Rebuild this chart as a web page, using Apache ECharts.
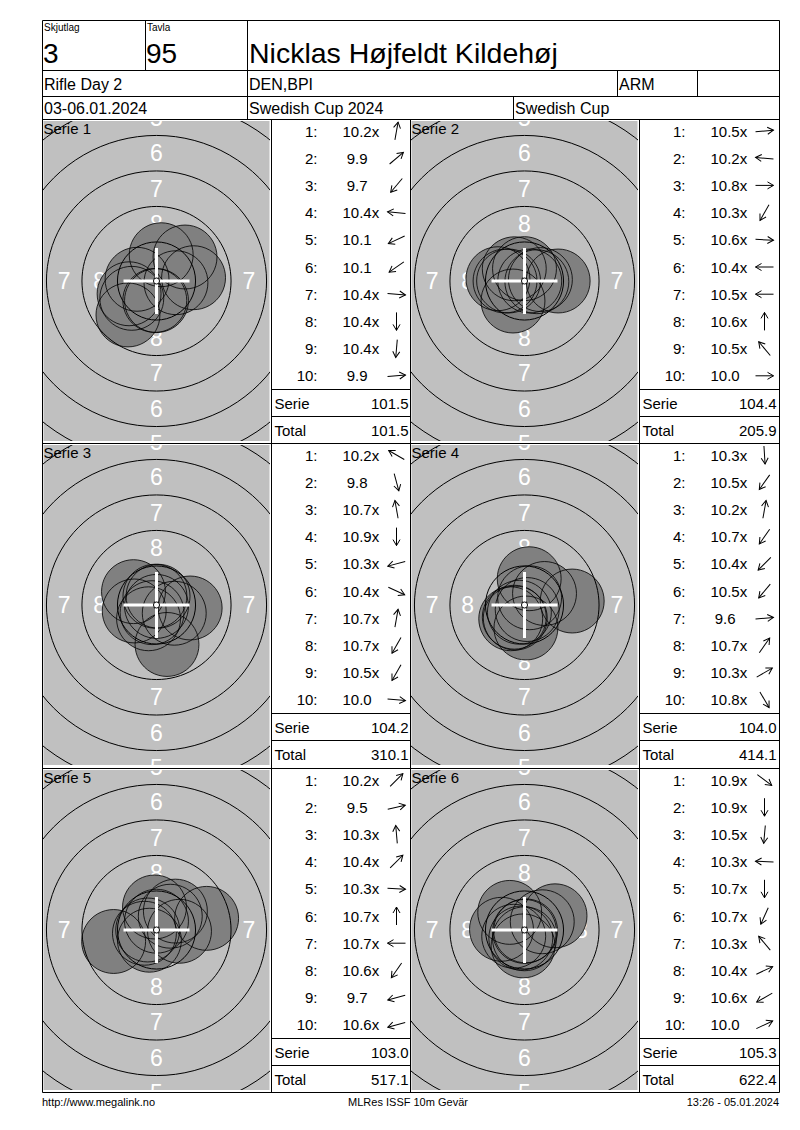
<!DOCTYPE html>
<html>
<head>
<meta charset="utf-8">
<script src="https://cdn.jsdelivr.net/npm/echarts@6/dist/echarts.min.js"></script>
<style>
html, body { margin: 0; padding: 0; background: #fff; }
#main { width: 800px; height: 1130px; }
</style>
</head>
<body>
<div id="main"></div>
<script>
// header
var relay = '3';
var lane = '95';
var shooterName = 'Nicklas Højfeldt Kildehøj';
var row2Texts = ['Rifle Day 2', 'DEN,BPI', 'ARM'];
var row3Texts = ['03-06.01.2024', 'Swedish Cup 2024', 'Swedish Cup'];
var footerTexts = ['http://www.megalink.no', 'MLRes ISSF 10m Gevär', '13:26 - 05.01.2024'];

// shots per serie: score text and position in mm (x right, y up)
var scores1 = ['10.2x', '9.9', '9.7', '10.4x', '10.1', '10.1', '10.4x', '10.4x', '10.4x', '9.9'];
var shots1 = [[0.33, 1.85], [2.01, 1.69], [-2.01, -2.39], [-1.37, 0.12], [-1.93, -0.90], [-1.74, -1.22], [1.37, -0.12], [0.00, -1.38], [-0.12, -1.37], [2.61, 0.23]];

var scores2 = ['10.5x', '10.2x', '10.8x', '10.3x', '10.6x', '10.4x', '10.5x', '10.6x', '10.5x', '10.0'];
var shots2 = [[1.12, 0.10], [-1.87, 0.16], [0.37, 0.00], [-0.81, -1.41], [0.87, -0.05], [-1.37, 0.00], [-1.12, 0.00], [0.00, 0.87], [-0.72, 0.86], [2.37, 0.00]];

var scores3 = ['10.2x', '9.8', '10.7x', '10.9x', '10.3x', '10.4x', '10.7x', '10.7x', '10.5x', '10.0'];
var shots3 = [[-1.62, 0.94], [0.74, -2.78], [-0.11, 0.62], [0.00, -0.10], [-1.57, -0.42], [1.25, -0.58], [0.11, 0.62], [-0.31, -0.54], [-0.56, -0.97], [2.37, -0.21]];

var scores4 = ['10.3x', '10.5x', '10.2x', '10.7x', '10.4x', '10.5x', '9.6', '10.7x', '10.3x', '10.8x'];
var shots4 = [[0.10, -1.62], [-0.65, -0.92], [0.33, 1.85], [-0.36, -0.51], [-0.97, -0.97], [-0.72, -0.86], [3.36, 0.28], [0.36, 0.51], [1.41, 0.81], [0.19, -0.32]];

var scores5 = ['10.2x', '9.5', '10.3x', '10.4x', '10.3x', '10.7x', '10.7x', '10.6x', '9.7', '10.6x'];
var shots5 = [[1.33, 1.33], [3.53, 0.82], [-0.14, 1.62], [0.97, 0.97], [1.62, -0.09], [0.00, 0.62], [-0.62, 0.00], [-0.50, -0.72], [-3.02, -0.81], [-0.85, -0.23]];

var scores6 = ['10.9x', '10.9x', '10.5x', '10.3x', '10.7x', '10.7x', '10.3x', '10.4x', '10.6x', '10.0'];
var shots6 = [[0.08, -0.06], [0.00, -0.10], [-0.10, -1.12], [-1.62, 0.05], [0.00, -0.62], [-0.26, -0.57], [-1.04, 1.24], [1.25, 0.58], [-0.76, -0.44], [2.15, 1.00]];

var allScores = [scores1, scores2, scores3, scores4, scores5, scores6];
var allShots = [shots1, shots2, shots3, shots4, shots5, shots6];

// target rings (mm radius, ring 10 .. 4) and zone labels
var ringRadius = [0.25, 2.75, 5.25, 7.75, 10.25, 12.75, 15.25];
var zoneLabels = ['8', '7', '6', '5'];
var zoneLabelRadius = [4.0, 6.5, 9.0, 11.5];
var pelletMM = 4.5;

// layout
var FONT = '"Liberation Sans", Arial, sans-serif';
var PX_MM = 14.2;
var GW = 226, GH = 320;
var panelTop = [119.5, 443.5, 768.5];
var panelLeft = [42.5, 410.5];
var R = 779.5, B = 1092.5;
var CROSS = 33;

var grids = [], xAxes = [], yAxes = [], series = [], g = [];

function ln(x1, y1, x2, y2) {
    return { type: 'line', z: 100, shape: { x1: x1, y1: y1, x2: x2, y2: y2 }, style: { stroke: '#000', lineWidth: 1 } };
}
function txt(x, y, s, size, align, va) {
    return {
        type: 'text', x: x, y: y, z: 101,
        style: {
            text: s, fontSize: size, fontFamily: FONT, fill: '#000',
            align: align || 'left', textAlign: align || 'left',
            verticalAlign: va || 'middle', textVerticalAlign: va || 'middle'
        }
    };
}
function arrow(cx, cy, ang) {
    return {
        type: 'group', x: cx, y: cy, rotation: ang, z: 100,
        children: [
            { type: 'line', shape: { x1: -9, y1: 0, x2: 9, y2: 0 }, style: { stroke: '#000', lineWidth: 1 } },
            { type: 'polyline', shape: { points: [[3, -3.5], [9, 0], [3, 3.5]] }, style: { stroke: '#000', fill: 'none', lineWidth: 1 } }
        ]
    };
}

// table frame and header
g.push({ type: 'rect', z: 100, shape: { x: 42.5, y: 20.5, width: R - 42.5, height: B - 20.5 }, style: { fill: 'none', stroke: '#000', lineWidth: 1 } });
g.push(ln(42.5, 70.5, R, 70.5));
g.push(ln(42.5, 96.5, R, 96.5));
g.push(ln(42.5, 119.5, R, 119.5));
g.push(ln(145.5, 20.5, 145.5, 70.5));
g.push(ln(247.5, 20.5, 247.5, 119.5));
g.push(ln(617.5, 70.5, 617.5, 96.5));
g.push(ln(697.5, 70.5, 697.5, 96.5));
g.push(ln(513.5, 96.5, 513.5, 119.5));

g.push(txt(44, 22, 'Skjutlag', 10, 'left', 'top'));
g.push(txt(147, 22, 'Tavla', 10, 'left', 'top'));
g.push(txt(43, 53, relay, 28));
g.push(txt(146, 53, lane, 28));
g.push(txt(249, 53, shooterName, 28.5));
g.push(txt(44, 84, row2Texts[0], 16));
g.push(txt(249, 84, row2Texts[1], 16));
g.push(txt(619, 84, row2Texts[2], 16));
g.push(txt(44, 108.5, row3Texts[0], 16));
g.push(txt(249, 108.5, row3Texts[1], 16));
g.push(txt(515, 108.5, row3Texts[2], 16));

g.push(txt(42, 1102, footerTexts[0], 11));
g.push(txt(408, 1102, footerTexts[1], 11, 'center'));
g.push(txt(779, 1102, footerTexts[2], 11, 'right'));

// panel grid lines
g.push(ln(42.5, panelTop[1], R, panelTop[1]));
g.push(ln(42.5, panelTop[2], R, panelTop[2]));
g.push(ln(271.5, 119.5, 271.5, B));
g.push(ln(410.5, 119.5, 410.5, B));
g.push(ln(639.5, 119.5, 639.5, B));

var runTotal = 0;
for (var p = 0; p < 6; p++) {
    var col = p % 2, row = Math.floor(p / 2);
    var pTop = panelTop[row], pLeft = panelLeft[col];
    var gx = pLeft + 1, gy = pTop + 1.5;
    var L = pLeft + 229;
    var listR = col === 0 ? 410.5 : R;

    grids.push({ left: gx, top: gy, width: GW, height: GH, show: true, backgroundColor: '#c0c0c0', borderWidth: 0 });
    xAxes.push({ gridIndex: p, type: 'value', min: -GW / 2 / PX_MM, max: GW / 2 / PX_MM, show: false });
    yAxes.push({ gridIndex: p, type: 'value', min: -GH / 2 / PX_MM, max: GH / 2 / PX_MM, show: false });

    // zone numbers (only those that fall inside the target box)
    series.push({
        type: 'custom', coordinateSystem: 'cartesian2d', xAxisIndex: p, yAxisIndex: p,
        clip: true, silent: true, z: 1, animation: false,
        data: zoneLabelRadius.map(function (r) { return [r, 0]; }),
        renderItem: function (params, api) {
            var c = api.coord([0, 0]);
            var r = api.size([api.value(0), 0])[0];
            var s = zoneLabels[params.dataIndex];
            var cs = params.coordSys;
            var pos = [[c[0], c[1] - r], [c[0], c[1] + r], [c[0] - r, c[1]], [c[0] + r, c[1]]].filter(function (q) {
                return q[0] > cs.x && q[0] < cs.x + cs.width && q[1] > cs.y - 6 && q[1] < cs.y + cs.height + 6;
            });
            return {
                type: 'group',
                children: pos.map(function (q) {
                    return { type: 'text', x: q[0], y: q[1], style: { text: s, fill: '#fff', fontSize: 23, fontFamily: FONT, align: 'center', verticalAlign: 'middle' } };
                })
            };
        }
    });
    // shot fills
    series.push({
        type: 'scatter', xAxisIndex: p, yAxisIndex: p, data: allShots[p], z: 2,
        symbolSize: pelletMM * PX_MM, silent: true, animation: false,
        itemStyle: { color: '#808080', opacity: 1, borderWidth: 0 }
    });
    // rings
    series.push({
        type: 'custom', coordinateSystem: 'cartesian2d', xAxisIndex: p, yAxisIndex: p,
        clip: true, silent: true, z: 3, animation: false,
        data: ringRadius.map(function (r) { return [r, 0]; }),
        renderItem: function (params, api) {
            var c = api.coord([0, 0]);
            var r = api.size([api.value(0), 0])[0];
            return { type: 'circle', shape: { cx: c[0], cy: c[1], r: r }, style: { fill: 'none', stroke: '#000', lineWidth: 1 } };
        }
    });
    // shot outlines
    series.push({
        type: 'scatter', xAxisIndex: p, yAxisIndex: p, data: allShots[p], z: 4,
        symbolSize: pelletMM * PX_MM, silent: true, animation: false,
        itemStyle: { color: 'rgba(0,0,0,0)', borderColor: '#000', borderWidth: 1 }
    });
    // centre cross
    series.push({
        type: 'custom', coordinateSystem: 'cartesian2d', xAxisIndex: p, yAxisIndex: p,
        silent: true, z: 5, animation: false, data: [[0, 0]],
        renderItem: function (params, api) {
            var c = api.coord([0, 0]);
            return {
                type: 'group', children: [
                    { type: 'line', shape: { x1: c[0] - CROSS, y1: c[1], x2: c[0] + CROSS, y2: c[1] }, style: { stroke: '#fff', lineWidth: 3 } },
                    { type: 'line', shape: { x1: c[0], y1: c[1] - CROSS, x2: c[0], y2: c[1] + CROSS }, style: { stroke: '#fff', lineWidth: 3 } },
                    { type: 'circle', shape: { cx: c[0], cy: c[1], r: 3 }, style: { fill: '#fff', stroke: '#000', lineWidth: 1 } }
                ]
            };
        }
    });

    g.push(txt(gx, gy + 7, 'Serie ' + (p + 1), 15));

    // score list
    var sum = 0;
    for (var i = 0; i < 10; i++) {
        var sc = allScores[p][i];
        var v = parseFloat(sc);
        sum += v;
        var ry = pTop + 11.5 + 27.2 * i;
        g.push(txt(L + 46, ry, (i + 1) + ':', 15, 'right'));
        g.push(txt(L + 71, ry, v < 10 ? '\u00a0' + sc : sc, 15));
        var s = allShots[p][i];
        g.push(arrow(L + 125, ry, Math.atan2(s[1], s[0])));
    }
    runTotal += sum;
    g.push(ln(L, pTop + 270, listR, pTop + 270));
    g.push(ln(L, pTop + 297, listR, pTop + 297));
    g.push(txt(L + 3, pTop + 283.5, 'Serie', 15));
    g.push(txt(L + 137, pTop + 283.5, sum.toFixed(1), 15, 'right'));
    g.push(txt(L + 3, pTop + 310.5, 'Total', 15));
    g.push(txt(L + 137, pTop + 310.5, runTotal.toFixed(1), 15, 'right'));
}

var chart = echarts.init(document.getElementById('main'), null, { renderer: 'svg' });
chart.setOption({
    animation: false,
    backgroundColor: '#fff',
    grid: grids,
    xAxis: xAxes,
    yAxis: yAxes,
    series: series,
    graphic: g
});
</script>
</body>
</html>
